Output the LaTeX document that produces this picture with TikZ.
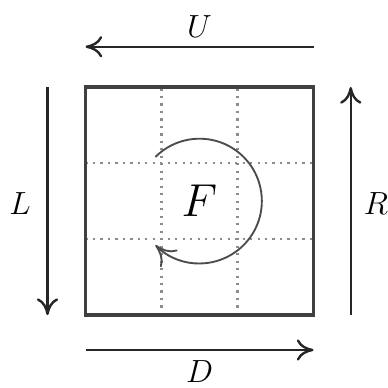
\documentclass[tikz,border=0pt]{standalone}
\usepackage{tikz}
\usetikzlibrary{arrows.meta,positioning}
\tikzset{
  facebox/.style={draw=black!75, line width=1.4pt},
  gridline/.style={draw=black!45, dotted, line width=0.8pt},
  turnarr/.style={-{To[length=2.2mm,width=2.8mm]}, line width=0.9pt, black!85},
  spinarr/.style={-{To[length=2.6mm,width=3.2mm]}, line width=0.7pt, black!70},
  movelabel/.style={font=\fontsize{12.5}{14}\selectfont, inner sep=1pt}
}
\begin{document}
\begin{tikzpicture}
\useasboundingbox (-1.125,-0.96) rectangle (3.967,4.145);
% face corners
\coordinate (sw) at (0,0);
\coordinate (ne) at (3,3);
\coordinate (mid) at (1.5,1.5);
% dotted grid of the face
\foreach \k in {1,2}{
  \draw[gridline] (\k,0) -- (\k,3);
  \draw[gridline] (0,\k) -- (3,\k);
}
\draw[facebox] (sw) rectangle (ne);
% rotation of the face
\node[font=\fontsize{16}{18}\selectfont, inner sep=1pt] (face) at (mid) {$F$};
\draw[spinarr] (mid) ++(135:0.82) arc[start angle=135, end angle=-135, radius=0.82];
% arrow ends round the face
\coordinate (ustart) at (3,3.53);
\coordinate (uend) at (0,3.53);
\coordinate (lstart) at (-0.5,3);
\coordinate (lend) at (-0.5,0);
\coordinate (rstart) at (3.49,0);
\coordinate (rend) at (3.49,3);
\coordinate (dstart) at (0,-0.46);
\coordinate (dend) at (3,-0.46);
\draw[turnarr] (ustart) -- (uend);
\draw[turnarr] (lstart) -- (lend);
\draw[turnarr] (rstart) -- (rend);
\draw[turnarr] (dstart) -- (dend);
% labels
\node[movelabel] (ulabel) at (1.5,3.80) {$U$};
\node[movelabel] (llabel) at (-0.86,1.47) {$L$};
\node[movelabel] (rlabel) at (3.82,1.47) {$R$};
\node[movelabel] (dlabel) at (1.5,-0.75) {$D$};
\end{tikzpicture}
\end{document}
